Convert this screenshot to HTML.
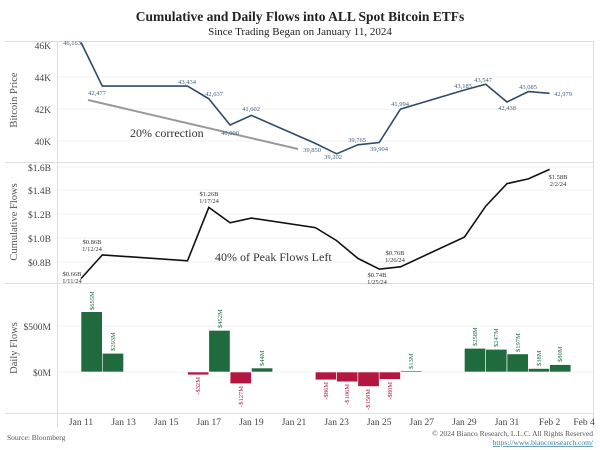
<!DOCTYPE html>
<html><head><meta charset="utf-8"><style>
html,body{margin:0;padding:0;background:#fff;}
svg{display:block;font-family:"Liberation Serif",serif;}
</style></head><body>
<svg width="600" height="450" viewBox="0 0 600 450" xmlns="http://www.w3.org/2000/svg">
<rect width="600" height="450" fill="#fff"/>
<text x="300" y="21" text-anchor="middle" font-size="13.5" font-weight="bold" fill="#222">Cumulative and Daily Flows into ALL Spot Bitcoin ETFs</text>
<text x="300" y="35" text-anchor="middle" font-size="11" fill="#222">Since Trading Began on January 11, 2024</text>
<g stroke="#ddd" stroke-width="1" fill="none">
<line x1="5" y1="41.5" x2="593" y2="41.5"/>
<line x1="5" y1="162.5" x2="593" y2="162.5"/>
<line x1="5" y1="283.5" x2="593" y2="283.5"/>
<line x1="5" y1="413.5" x2="593" y2="413.5"/>
<line x1="57.5" y1="41" x2="57.5" y2="428"/>
<line x1="593.5" y1="41" x2="593.5" y2="428"/>
</g>
<g stroke="#f0f0f0" stroke-width="1">
<line x1="58" y1="45" x2="593" y2="45"/><line x1="58" y1="77" x2="593" y2="77"/>
<line x1="58" y1="109" x2="593" y2="109"/><line x1="58" y1="141" x2="593" y2="141"/>
<line x1="58" y1="167" x2="593" y2="167"/><line x1="58" y1="190" x2="593" y2="190"/>
<line x1="58" y1="214" x2="593" y2="214"/><line x1="58" y1="238" x2="593" y2="238"/>
<line x1="58" y1="262" x2="593" y2="262"/>
<line x1="58" y1="326" x2="593" y2="326"/><line x1="58" y1="372" x2="593" y2="372"/>
</g>
<g font-size="9.5" fill="#444" text-anchor="end">
<text x="51" y="49">46K</text><text x="51" y="81">44K</text><text x="51" y="113">42K</text><text x="51" y="145">40K</text>
<text x="51" y="171">$1.6B</text><text x="51" y="194">$1.4B</text><text x="51" y="218">$1.2B</text><text x="51" y="242">$1.0B</text><text x="51" y="266">$0.8B</text>
<text x="51" y="330">$500M</text><text x="51" y="376">$0M</text>
</g>
<g font-size="10.5" fill="#555" text-anchor="middle">
<text transform="translate(17,100) rotate(-90)">Bitcoin Price</text>
<text transform="translate(17,222) rotate(-90)">Cumulative Flows</text>
<text transform="translate(17,348) rotate(-90)">Daily Flows</text>
</g>
<line x1="88" y1="100" x2="298" y2="149" stroke="#999" stroke-width="2"/>
<text x="130" y="137" font-size="12" fill="#333">20% correction</text>
<polyline fill="none" stroke="#2f4b68" stroke-width="1.6" points="81,42.4 102.3,86.1 187.5,86.1 208.8,98.8 230.1,125 251.4,115.4 315.3,143.4 336.6,153.8 357.9,144.8 379.2,142.5 400.5,109.1 464.4,90 485.7,84.2 507,102 528.3,91.6 549.6,93.3"/>
<g font-size="6.5" fill="#3f5f80" text-anchor="middle">
<text x="72" y="45">46,163</text><text x="97" y="95">42,477</text><text x="187" y="84">43,434</text><text x="214" y="96">42,637</text>
<text x="230" y="135">40,000</text><text x="251" y="111">41,602</text><text x="312" y="152">39,850</text><text x="333" y="159">39,202</text>
<text x="357" y="142">39,765</text><text x="379" y="151">39,904</text><text x="400" y="106">41,994</text><text x="463" y="88">43,185</text>
<text x="483" y="82">43,547</text><text x="507" y="110">42,438</text><text x="528" y="89">43,085</text><text x="563" y="96">42,979</text>
</g>
<text x="215" y="261" font-size="12" fill="#333">40% of Peak Flows Left</text>
<polyline fill="none" stroke="#111" stroke-width="1.6" points="81,278.6 102.3,254.9 187.5,260.8 208.8,207.4 230.1,222.8 251.4,218.1 315.3,227.6 336.6,240.6 357.9,258.4 379.2,269.1 400.5,266.8 464.4,237.1 485.7,206.2 507,183.6 528.3,178.9 549.6,169.4"/>
<g font-size="6.5" fill="#333" text-anchor="middle">
<text x="72" y="276">$0.66B</text><text x="72" y="283">1/11/24</text>
<text x="92" y="244">$0.86B</text><text x="92" y="251">1/12/24</text>
<text x="209" y="196">$1.26B</text><text x="209" y="203">1/17/24</text>
<text x="377" y="277">$0.74B</text><text x="377" y="284">1/25/24</text>
<text x="395" y="255">$0.76B</text><text x="395" y="262">1/26/24</text>
<text x="558" y="179">$1.58B</text><text x="558" y="186">2/2/24</text>
</g>
<g fill="#1f6b3d" stroke="#fff" stroke-width="0.6">
<rect x="81" y="311.7" width="21.3" height="60.3"/>
<rect x="102.3" y="353.3" width="21.3" height="18.7"/>
<rect x="208.8" y="330.4" width="21.3" height="41.6"/>
<rect x="251.4" y="368" width="21.3" height="4"/>
<rect x="400.5" y="370.8" width="21.3" height="1.2"/>
<rect x="464.4" y="348.3" width="21.3" height="23.7"/>
<rect x="485.7" y="349.3" width="21.3" height="22.7"/>
<rect x="507" y="353.9" width="21.3" height="18.1"/>
<rect x="528.3" y="368.5" width="21.3" height="3.5"/>
<rect x="549.6" y="364.6" width="21.3" height="7.4"/>
</g>
<g fill="#b3173f" stroke="#fff" stroke-width="0.6">
<rect x="187.5" y="372" width="21.3" height="2.9"/>
<rect x="230.1" y="372" width="21.3" height="11.7"/>
<rect x="315.3" y="372" width="21.3" height="7.9"/>
<rect x="336.6" y="372" width="21.3" height="9.8"/>
<rect x="357.9" y="372" width="21.3" height="14.5"/>
<rect x="379.2" y="372" width="21.3" height="7.4"/>
</g>
<g font-size="6.5" fill="#1f6b3d">
<text transform="translate(94,310) rotate(-90)">$655M</text>
<text transform="translate(115,351) rotate(-90)">$203M</text>
<text transform="translate(222,328) rotate(-90)">$452M</text>
<text transform="translate(264,366) rotate(-90)">$44M</text>
<text transform="translate(413,369) rotate(-90)">$13M</text>
<text transform="translate(477,346) rotate(-90)">$258M</text>
<text transform="translate(498,347) rotate(-90)">$247M</text>
<text transform="translate(520,352) rotate(-90)">$197M</text>
<text transform="translate(541,366) rotate(-90)">$38M</text>
<text transform="translate(562,362) rotate(-90)">$80M</text>
</g>
<g font-size="6.5" fill="#b3173f" text-anchor="end">
<text transform="translate(200,377) rotate(-90)">-$32M</text>
<text transform="translate(243,386) rotate(-90)">-$127M</text>
<text transform="translate(328,382) rotate(-90)">-$86M</text>
<text transform="translate(349,384) rotate(-90)">-$106M</text>
<text transform="translate(370,389) rotate(-90)">-$158M</text>
<text transform="translate(392,382) rotate(-90)">-$80M</text>
</g>
<g font-size="9.5" fill="#444" text-anchor="middle">
<text x="81" y="425">Jan 11</text><text x="123.6" y="425">Jan 13</text><text x="166.2" y="425">Jan 15</text>
<text x="208.8" y="425">Jan 17</text><text x="251.4" y="425">Jan 19</text><text x="294" y="425">Jan 21</text>
<text x="336.6" y="425">Jan 23</text><text x="379.2" y="425">Jan 25</text><text x="421.8" y="425">Jan 27</text>
<text x="464.4" y="425">Jan 29</text><text x="507" y="425">Jan 31</text><text x="549.6" y="425">Feb 2</text>
<text x="584" y="425">Feb 4</text>
</g>
<text x="7" y="440" font-size="7.5" fill="#555">Source: Bloomberg</text>
<text x="593" y="436" font-size="7.5" fill="#555" text-anchor="end">© 2024 Bianco Research, L.L.C. All Rights Reserved</text>
<text x="593" y="445" font-size="7.5" fill="#3a7fa8" text-anchor="end" text-decoration="underline">https://www.biancoresearch.com/</text>
</svg>
</body></html>
